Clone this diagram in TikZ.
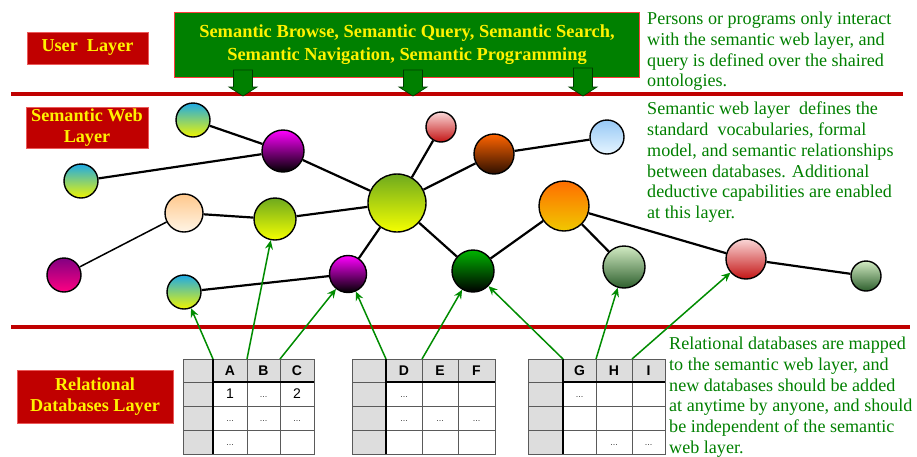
\documentclass[tikz,border=0pt]{standalone}
\usepackage{fontspec}
\setmainfont{Liberation Serif}[BoldFont={Liberation Serif Bold}]
\newfontfamily\timesf{Liberation Serif}[BoldFont={Liberation Serif Bold}]
\newfontfamily\arialf{Liberation Sans}
\usetikzlibrary{arrows.meta}
\definecolor{barred}{RGB}{192,0,0}
\definecolor{boxgreen}{RGB}{0,128,0}
\definecolor{txtgreen}{RGB}{0,128,0}
\definecolor{arrgreen}{RGB}{0,140,0}
\definecolor{cellgray}{RGB}{221,221,221}
\newcommand\mytable[5]{%
  \fill[white] (#2,382) rectangle (#5,454);
  \fill[cellgray] (#1,359) rectangle (#5,382);
  \fill[cellgray] (#1,359) rectangle (#2,454);
  \foreach \yy in {382,406,430} \draw[gridline] (#1,\yy) -- (#5,\yy);
  \foreach \xx in {#3,#4} \draw[gridline] (\xx,359) -- (\xx,454);
  \draw[gridline] (#1,359) rectangle (#5,454);
  \draw[thickline] (#2,382) -- (#5,382);
  \draw[thickline] (#2,359) -- (#2,454);
}
\begin{document}
\begin{tikzpicture}[x=1pt,y=-1pt,
  ball/.style={circle,draw=black,line width=1.4pt,inner sep=0pt},
  link/.style={line width=2.2pt,black},
  garrow/.style={draw=arrgreen,line width=1.5pt,-{Stealth[length=9pt,width=8pt,inset=3pt]}},
  layerbox/.style={fill=barred,draw={rgb,255:red,235;green,90;blue,90},line width=0.6pt,text=yellow,font=\timesf\bfseries\fontsize{18.2}{20.5}\selectfont,align=center,inner sep=0pt},
  desc/.style={text=txtgreen,font=\timesf\fontsize{18.1}{20.7}\selectfont,align=left,anchor=north west,inner sep=0pt},
  blockarrow/.style={fill=boxgreen,draw={rgb,255:red,0;green,60;blue,0},line width=0.7pt},
  redbar/.style={draw=barred,line width=4pt},
  gridline/.style={draw={rgb,255:red,90;green,90;blue,90},line width=0.8pt},
  thickline/.style={draw=black,line width=1.8pt},
  hdr/.style={font=\arialf\bfseries\fontsize{14}{14}\selectfont,inner sep=0pt},
  num/.style={font=\arialf\fontsize{14}{14}\selectfont,inner sep=0pt},
  dots/.style={font=\arialf\fontsize{9}{9}\selectfont,text={rgb,255:red,60;green,60;blue,60},inner sep=0pt},
  cy/.style={top color={rgb,255:red,30;green,170;blue,230},bottom color={rgb,255:red,240;green,245;blue,0}},
  mg/.style={top color={rgb,255:red,255;green,0;blue,255},bottom color=black},
  pe/.style={top color={rgb,255:red,255;green,200;blue,140},bottom color={rgb,255:red,255;green,245;blue,230}},
  yg/.style={top color={rgb,255:red,110;green,170;blue,30},bottom color={rgb,255:red,245;green,255;blue,0}},
  pk/.style={top color={rgb,255:red,250;green,215;blue,215},bottom color={rgb,255:red,195;green,20;blue,20}},
  br/.style={top color={rgb,255:red,255;green,100;blue,0},bottom color={rgb,255:red,45;green,15;blue,0}},
  lb/.style={top color={rgb,255:red,150;green,200;blue,245},bottom color={rgb,255:red,230;green,245;blue,255}},
  og/.style={top color={rgb,255:red,255;green,110;blue,0},bottom color={rgb,255:red,240;green,200;blue,0}},
  pu/.style={top color={rgb,255:red,130;green,0;blue,130},bottom color={rgb,255:red,255;green,0;blue,130}},
  dg/.style={top color={rgb,255:red,0;green,180;blue,0},bottom color=black},
  lg/.style={top color={rgb,255:red,210;green,235;blue,195},bottom color={rgb,255:red,45;green,95;blue,45}}
]
\useasboundingbox (0,0) rectangle (917,456);
\fill[white] (0,0) rectangle (917,456);

% layer separators
\draw[redbar] (11,94) -- (903,94);
\draw[redbar] (11,327) -- (910,327);

% left labels
\node[layerbox,minimum width=121pt,minimum height=32pt] (ul) at (87.5,48) {User\ \ Layer};
\node[layerbox,minimum width=122pt,minimum height=41pt] (swl) at (87,127.5) {Semantic Web\\Layer};
\node[layerbox,minimum width=156pt,minimum height=53pt] (rdl) at (95,396.5) {Relational\\Databases Layer};

% user box
\node[fill=boxgreen,draw={rgb,255:red,255;green,60;blue,60},line width=0.8pt,minimum width=465pt,minimum height=65pt,text=yellow,font=\timesf\bfseries\fontsize{18.4}{23}\selectfont,align=center,inner sep=0pt] (gb) at (407,44.5) {Semantic Browse, Semantic Query, Semantic Search,\\Semantic Navigation, Semantic Programming};
\foreach \ax/\top in {243/70,413/70,583/68} {
  \draw[blockarrow] (\ax-9.5,\top) -- (\ax+9.5,\top) -- (\ax+9.5,87) -- (\ax+14,87) -- (\ax,96) -- (\ax-14,87) -- (\ax-9.5,87) -- cycle;
}

% descriptions
\node[desc] (d1) at (647,12) {Persons or programs only interact\\with the semantic web layer, and\\query is defined over the shaired\\ontologies.};
\node[desc] (d2) at (647,102) {Semantic web layer\ \ defines the\\standard\ \ vocabularies, formal\\model, and semantic relationships\\between databases. Additional\\deductive capabilities are enabled\\at this layer.};
\node[desc] (d3) at (669,337) {Relational databases are mapped\\to the semantic web layer, and\\new databases should be added\\at anytime by anyone, and should\\be independent of the semantic\\web layer.};

% semantic web nodes
\node[ball,cy,minimum size=34pt] (n1) at (193,120) {};
\node[ball,mg,minimum size=42pt] (n2) at (283,151) {};
\node[ball,cy,minimum size=34pt] (n3) at (81,181) {};
\node[ball,pe,minimum size=38pt] (n4) at (184,213) {};
\node[ball,yg,minimum size=42pt] (n5) at (275,219) {};
\node[ball,yg,minimum size=58pt] (n6) at (397,203) {};
\node[ball,pk,minimum size=30pt] (n7) at (441,127) {};
\node[ball,br,minimum size=40pt] (n8) at (494,154) {};
\node[ball,lb,minimum size=34pt] (n9) at (607,137) {};
\node[ball,og,minimum size=50pt] (n10) at (564,206) {};
\node[ball,pu,minimum size=34pt] (n11) at (64,275) {};
\node[ball,cy,minimum size=34pt] (n12) at (184,292) {};
\node[ball,mg,minimum size=37pt] (n13) at (348,274) {};
\node[ball,dg,minimum size=42pt] (n14) at (473,271) {};
\node[ball,lg,minimum size=42pt] (n15) at (624,267) {};
\node[ball,pk,minimum size=40pt] (n16) at (746,259) {};
\node[ball,lg,minimum size=30pt] (n17) at (866,276) {};

\draw[link] (n1) -- (n2);
\draw[link] (n3) -- (n2);
\draw[link] (n2) -- (n6);
\draw[link] (n4) -- (n5);
\draw[link] (n5) -- (n6);
\draw[line width=1.5pt] (n11) -- (n4);
\draw[link] (n6) -- (n7);
\draw[link] (n6) -- (n8);
\draw[link] (n8) -- (n9);
\draw[link] (n6) -- (n13);
\draw[link] (n6) -- (n14);
\draw[link] (n13) -- (n12);
\draw[link] (n14) -- (n10);
\draw[link] (n10) -- (n15);
\draw[link] (n10) -- (n16);
\draw[link] (n16) -- (n17);

% tables
\mytable{183}{213}{247}{280}{314}
\mytable{352}{386}{422}{458}{495}
\mytable{528}{563}{596}{632}{665}

\node[hdr] (hA) at (230,370.5) {A};
\node[hdr] (hB) at (263.5,370.5) {B};
\node[hdr] (hC) at (297,370.5) {C};
\node[num] (c11) at (230,394) {1};
\node[dots] (c12) at (263.5,397) {...};
\node[num] (c13) at (297,394) {2};
\node[dots] (c21) at (230,421) {...};
\node[dots] (c22) at (263.5,421) {...};
\node[dots] (c23) at (297,421) {...};
\node[dots] (c31) at (230,445) {...};

\node[hdr] (hD) at (404,370.5) {D};
\node[hdr] (hE) at (440,370.5) {E};
\node[hdr] (hF) at (476.5,370.5) {F};
\node[dots] (d11) at (404,397) {...};
\node[dots] (d21) at (404,421) {...};
\node[dots] (d22) at (440,421) {...};
\node[dots] (d23) at (476.5,421) {...};

\node[hdr] (hG) at (579.5,370.5) {G};
\node[hdr] (hH) at (614,370.5) {H};
\node[hdr] (hI) at (648.5,370.5) {I};
\node[dots] (g11) at (579.5,397) {...};
\node[dots] (g32) at (614,445) {...};
\node[dots] (g33) at (648.5,445) {...};

% mapping arrows
\coordinate (tA) at (213,359);
\coordinate (tB) at (247,359);
\coordinate (tC) at (280,359);
\coordinate (tD) at (386,359);
\coordinate (tE) at (422,359);
\coordinate (tG) at (563,359);
\coordinate (tH) at (596,359);
\coordinate (tI) at (632,359);
\draw[garrow] (tA) -- (n12);
\draw[garrow] (tB) -- (n5);
\draw[garrow] (tC) -- (n13);
\draw[garrow] (tD) -- (n13);
\draw[garrow] (tE) -- (n14);
\draw[garrow] (tG) -- (n14);
\draw[garrow] (tH) -- (n15);
\draw[garrow] (tI) -- (n16);
\end{tikzpicture}
\end{document}
